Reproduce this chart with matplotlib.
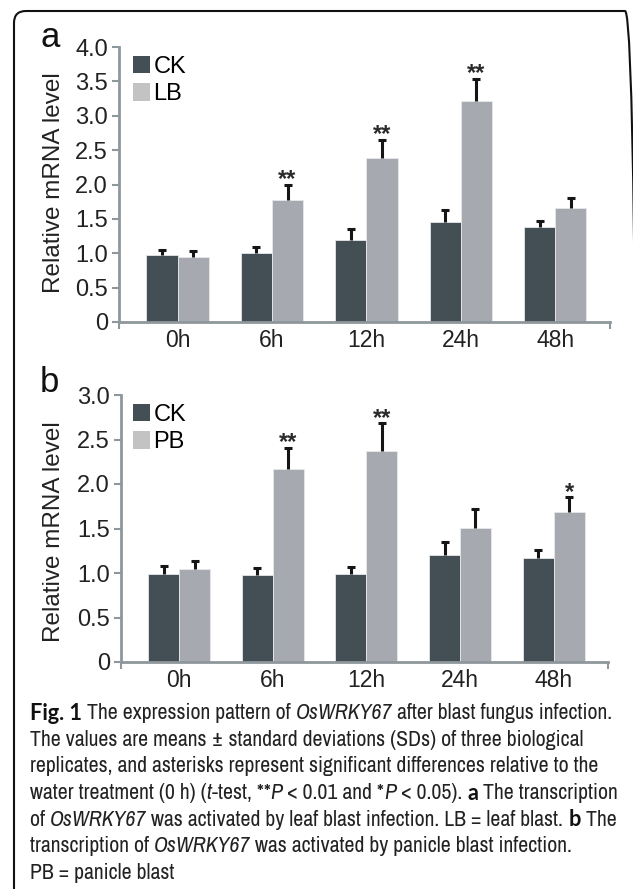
import matplotlib
matplotlib.use("Agg")
import matplotlib.pyplot as plt
import numpy as np
from matplotlib import font_manager
from matplotlib.patches import FancyBboxPatch, Patch

# panel a: leaf blast
times = ["0h", "6h", "12h", "24h", "48h"]
ck_a = [0.98, 1.00, 1.20, 1.45, 1.38]
ck_a_err = [0.07, 0.09, 0.15, 0.18, 0.09]
lb_a = [0.95, 1.78, 2.38, 3.22, 1.66]
lb_a_err = [0.09, 0.22, 0.27, 0.32, 0.15]
sig_a = ["", "**", "**", "**", ""]

# panel b: panicle blast
ck_b = [0.99, 0.98, 0.99, 1.20, 1.17]
ck_b_err = [0.09, 0.08, 0.08, 0.15, 0.09]
pb_b = [1.05, 2.17, 2.37, 1.51, 1.68]
pb_b_err = [0.09, 0.24, 0.31, 0.21, 0.17]
sig_b = ["", "**", "**", "", "*"]

# caption, one list of (text, style) runs per line: r regular, i italic, b bold
caption = [
    [("Fig. 1", "b"), (" The expression pattern of ", "r"), ("OsWRKY67", "i"),
     (" after blast fungus infection.", "r")],
    [("The values are means \u00b1 standard deviations (SDs) of three biological", "r")],
    [("replicates, and asterisks represent significant differences relative to the", "r")],
    [("water treatment (0 h) (", "r"), ("t", "i"), ("-test, **", "r"), ("P", "i"),
     (" < 0.01 and *", "r"), ("P", "i"), (" < 0.05). ", "r"), ("a", "b"),
     (" The transcription", "r")],
    [("of ", "r"), ("OsWRKY67", "i"), (" was activated by leaf blast infection. LB = leaf blast. ", "r"),
     ("b", "b"), (" The", "r")],
    [("transcription of ", "r"), ("OsWRKY67", "i"), (" was activated by panicle blast infection.", "r")],
    [("PB = panicle blast", "r")],
]

CK_COL = "#434e55"
T_COL = "#a6a9b0"
AX_COL = "#8e979c"

# narrow face for the caption if one is installed, else Lato
entries = font_manager.fontManager.ttflist
narrow = sorted({f.name for f in entries if "Narrow" in f.name or "Condensed" in f.name})
cap_font = narrow[0] if narrow else "Lato"
has_bold = any(f.name == cap_font and f.weight in ("bold", 700, 600, "semibold") for f in entries)
bold_font = cap_font if has_bold else "Lato"

plt.rcParams["font.family"] = ["Liberation Sans", "DejaVu Sans"]

W, H = 633, 889
fig = plt.figure(figsize=(W / 100, H / 100), dpi=100)


def panel(rect, ck, ck_err, tr, tr_err, sig, tr_name, ymax, letter, letter_y, ylab_y, leg_y):
    ax = fig.add_axes([rect[0] / W, 1 - rect[3] / H, (rect[2] - rect[0]) / W, (rect[3] - rect[1]) / H])
    x = np.arange(len(times))
    w = 0.33
    ax.bar(x - w / 2, ck, w, color=CK_COL, edgecolor="#e6e8ea", linewidth=0.6, zorder=2)
    ax.bar(x + w / 2, tr, w, color=T_COL, edgecolor="#e6e8ea", linewidth=0.6, zorder=2)
    for xs, vals, errs in [(x - w / 2, ck, ck_err), (x + w / 2, tr, tr_err)]:
        _, caps, _ = ax.errorbar(xs, vals, yerr=[np.zeros(len(vals)), errs], fmt="none",
                                 ecolor="#151515", elinewidth=2.2, capsize=3.2, capthick=2.2,
                                 zorder=3)
        caps[0].set_visible(False)
    for i, s in enumerate(sig):
        if s:
            ax.annotate(s, (x[i] + w / 2, tr[i] + tr_err[i]), xytext=(0, -1),
                        textcoords="offset points", ha="center", va="baseline",
                        fontsize=17, fontweight="bold", color="#2a2a2a")
    ax.set_xlim(-0.62, 4.58)
    ax.set_ylim(0, ymax)
    ticks = np.arange(0, ymax + 0.01, 0.5)
    ax.set_yticks(ticks)
    ax.set_yticklabels(["0" if t == 0 else "%.1f" % t for t in ticks])
    ax.set_xticks(x)
    ax.set_xticklabels(times)
    ax.set_xticks([-0.62, 4.58], minor=True)
    for side in ["top", "right"]:
        ax.spines[side].set_visible(False)
    for side in ["left", "bottom"]:
        ax.spines[side].set_color(AX_COL)
        ax.spines[side].set_linewidth(2)
    ax.tick_params(axis="y", direction="out", length=5, width=1.5, color=AX_COL,
                   labelsize=17, labelcolor="#222222", pad=3)
    ax.tick_params(axis="x", which="major", length=0, labelsize=16.5, labelcolor="#222222", pad=5)
    ax.tick_params(axis="x", which="minor", length=5, width=1.5, color=AX_COL)
    handles = [Patch(facecolor=CK_COL, label="CK"), Patch(facecolor="#c3c3c3", label=tr_name)]
    ax.legend(handles=handles, loc="upper left", bbox_to_anchor=(133 / W, 1 - leg_y / H),
              bbox_transform=fig.transFigure, frameon=False, fontsize=17,
              handlelength=0.72, handleheight=0.75, handletextpad=0.15,
              labelspacing=0.22, borderpad=0, borderaxespad=0)
    fig.text(40 / W, 1 - letter_y / H, letter, fontsize=25, va="baseline", ha="left", color="#111111")
    fig.text(54 / W, 1 - ylab_y / H, "Relative mRNA level", rotation=90, fontsize=17.5,
             ha="center", va="center", color="#222222")
    return ax


panel((119, 47, 610, 322), ck_a, ck_a_err, lb_a, lb_a_err, sig_a, "LB", 4.0, "a", 47, 183, 56)
panel((121, 395, 608, 662), ck_b, ck_b_err, pb_b, pb_b_err, sig_b, "PB", 3.0, "b", 392, 532, 404)

# caption: runs of text laid end to end, sized so the widest line fills the frame
runs = []
for i, line in enumerate(caption):
    row = []
    for txt, st in line:
        kw = dict(family=cap_font, weight="light")
        if st == "i":
            kw["style"] = "italic"
        if st == "b":
            kw = dict(family=bold_font, weight="bold")
        t = fig.text(0, 1 - (713 + i * 26.7) / H, txt, fontsize=14, ha="left", va="center",
                     color="#111111" if st == "b" else "#222222", **kw)
        row.append(t)
    runs.append(row)


def line_widths():
    fig.canvas.draw()
    r = fig.canvas.get_renderer()
    return [[t.get_window_extent(r).width for t in row] for row in runs]


widths = line_widths()
scale = 588.0 / max(sum(ws) for ws in widths)
for row in runs:
    for t in row:
        t.set_fontsize(14 * scale)
widths = line_widths()
for row, ws in zip(runs, widths):
    xpos = 30.0
    for t, wpx in zip(row, ws):
        t.set_x(xpos / W)
        xpos += wpx

# rounded frame, cut by the image edges
frame = FancyBboxPatch((14, -20), 623, H - 11 + 20, boxstyle="round,pad=0,rounding_size=12",
                       transform=None, fill=False, edgecolor="#111111", linewidth=1.5)
fig.patches.append(frame)

fig.savefig("out.png", dpi=100)
